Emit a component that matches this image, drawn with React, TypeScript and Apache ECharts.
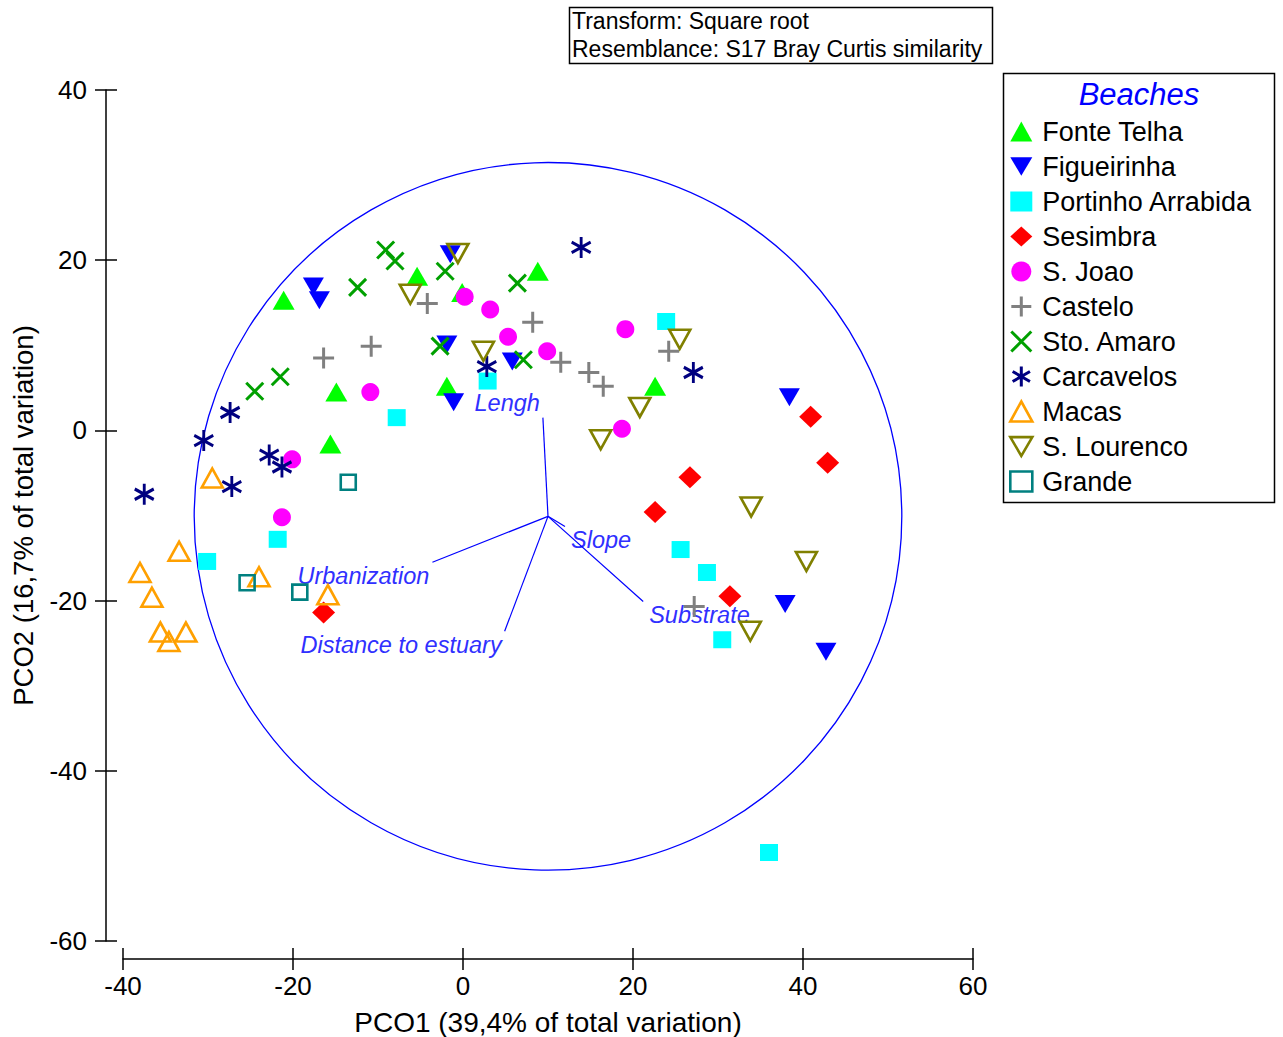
import React, { useEffect, useRef } from "react";
import * as echarts from "echarts";

// ---------- DATA ----------
const beachNames = [
  "Fonte Telha",
  "Figueirinha",
  "Portinho Arrabida",
  "Sesimbra",
  "S. Joao",
  "Castelo",
  "Sto. Amaro",
  "Carcavelos",
  "Macas",
  "S. Lourenco",
  "Grande",
];

const fonteTelha = [[-21.1, 15.3], [-14.9, 4.5], [-15.6, -1.6], [-5.4, 18.1], [8.8, 18.7], [-0.1, 16.2], [-1.9, 5.2], [22.6, 5.2]];
const figueirinha = [[-17.6, 16.9], [-16.9, 15.3], [-1.5, 20.7], [-1.9, 10.1], [5.8, 8.1], [-1.1, 3.3], [38.4, 3.9], [37.9, -20.4], [42.7, -26.0]];
const portinhoArrabida = [[2.9, 5.8], [-7.8, 1.5], [23.9, 12.8], [-21.8, -12.8], [-30.1, -15.4], [25.6, -14.0], [28.7, -16.7], [30.5, -24.6], [36.0, -49.6]];
const sesimbra = [[40.9, 1.6], [42.9, -3.8], [26.7, -5.5], [22.6, -9.6], [31.4, -19.5], [-16.4, -21.4]];
const sJoao = [[0.2, 15.7], [3.2, 14.2], [5.3, 11.0], [9.9, 9.3], [-10.9, 4.5], [19.1, 11.9], [18.7, 0.2], [-20.1, -3.4], [-21.3, -10.2]];
const castelo = [[-16.4, 8.5], [-4.2, 14.9], [-10.8, 9.9], [8.2, 12.7], [11.5, 8.0], [14.8, 6.8], [16.5, 5.2], [24.2, 9.3], [27.2, -20.7]];
const stoAmaro = [[-21.5, 6.3], [-24.5, 4.6], [-9.1, 21.2], [-8.0, 19.9], [-12.4, 16.8], [-2.1, 18.7], [6.4, 17.3], [-2.7, 9.9], [7.1, 8.3]];
const carcavelos = [[-27.4, 2.1], [-30.5, -1.2], [-22.8, -2.9], [-21.3, -4.3], [-27.2, -6.6], [-37.5, -7.5], [13.9, 21.5], [2.8, 7.5], [27.1, 6.8]];
const macas = [[-29.5, -5.6], [-33.4, -14.2], [-38.0, -16.7], [-36.6, -19.6], [-35.6, -23.7], [-34.6, -24.8], [-32.6, -23.7], [-24.0, -17.2], [-15.9, -19.3]];
const sLourenco = [[-0.6, 20.8], [-6.2, 16.0], [2.4, 9.3], [25.5, 10.7], [20.8, 2.7], [16.2, -1.1], [33.9, -9.0], [40.4, -15.4], [33.8, -23.6]];
const grande = [[-13.5, -6.1], [-25.4, -17.9], [-19.2, -19.0]];

const beachData = [fonteTelha, figueirinha, portinhoArrabida, sesimbra, sJoao, castelo, stoAmaro, carcavelos, macas, sLourenco, grande];

const vectorNames = ["Lengh", "Slope", "Urbanization", "Distance to estuary", "Substrate"];
const vectorEndX = [9.4, 12.0, -3.6, 4.9, 21.2];
const vectorEndY = [1.5, -11.3, -15.5, -23.6, -20.1];
const vectorOrigin = [10.0, -10.1];
const circleRadius = 41.6;

const xTicks = { min: -40, max: 60, interval: 20 };
const yTicks = { min: -60, max: 40, interval: 20 };

const xAxisTitle = "PCO1 (39,4% of total variation)";
const yAxisTitle = "PCO2 (16,7% of total variation)";
const infoLines = ["Transform: Square root", "Resemblance: S17 Bray Curtis similarity"];
const legendTitle = "Beaches";

// ---------- STYLES ----------
const FONT = "'Liberation Sans', Arial, sans-serif";
const DOWN_TRI = "path://M0,0 L20,0 L10,17 Z";
const PLUS = "path://M10,0 L10,20 M0,10 L20,10";
const CROSS = "path://M0,0 L20,20 M20,0 L0,20";
const STAR = "path://M10,0 L10,20 M1.34,5 L18.66,15 M18.66,5 L1.34,15";

const beachStyles = [
  { symbol: "triangle", size: [22, 19], color: "#00ff00", mode: "fill" },
  { symbol: DOWN_TRI, size: [21, 18], color: "#0000ff", mode: "fill" },
  { symbol: "rect", size: [18, 17], color: "#00ffff", mode: "fill" },
  { symbol: "diamond", size: [23, 22], color: "#ff0000", mode: "fill" },
  { symbol: "circle", size: 18, color: "#ff00ff", mode: "fill" },
  { symbol: PLUS, size: 21, color: "#808080", mode: "line" },
  { symbol: CROSS, size: 17, color: "#00a000", mode: "line" },
  { symbol: STAR, size: [19, 21], color: "#000080", mode: "line" },
  { symbol: "triangle", size: [21, 19], color: "#ffa000", mode: "hollow" },
  { symbol: DOWN_TRI, size: [21, 19], color: "#808000", mode: "hollow" },
  { symbol: "rect", size: 15, color: "#008080", mode: "hollow" },
];

export default function App() {
  const ref = useRef<HTMLDivElement>(null);

  useEffect(() => {
    if (!ref.current) return;
    const chart = echarts.init(ref.current, null, { renderer: "svg" });

    const scatterSeries = beachNames.map((name, i) => {
      const st = beachStyles[i];
      let itemStyle: any;
      if (st.mode === "fill") itemStyle = { color: st.color, borderWidth: 0, opacity: 1 };
      else if (st.mode === "line") itemStyle = { color: st.color, borderColor: st.color, borderWidth: 3, opacity: 1 };
      else itemStyle = { color: "rgba(255,255,255,0)", borderColor: st.color, borderWidth: 2.6, opacity: 1 };
      return {
        type: "scatter",
        name,
        data: beachData[i],
        symbol: st.symbol,
        symbolSize: st.size,
        itemStyle,
        z: 3,
        emphasis: { disabled: true },
        xAxisIndex: 0,
        yAxisIndex: 0,
      };
    });

    const circleSeries = {
      type: "custom",
      name: "circle",
      z: 1,
      silent: true,
      xAxisIndex: 0,
      yAxisIndex: 0,
      data: [[vectorOrigin[0], vectorOrigin[1], circleRadius]],
      renderItem: (params: any, api: any) => {
        const c = api.coord([api.value(0), api.value(1)]);
        const s = api.size([api.value(2), api.value(2)]);
        return {
          type: "circle",
          shape: { cx: c[0], cy: c[1], r: (s[0] + s[1]) / 2 },
          style: { fill: "none", stroke: "#0000ff", lineWidth: 1.3 },
        };
      },
    };

    const vectorSeries = {
      type: "custom",
      name: "vectors",
      z: 2,
      silent: true,
      xAxisIndex: 0,
      yAxisIndex: 0,
      data: vectorNames.map((n, i) => [vectorOrigin[0], vectorOrigin[1], vectorEndX[i], vectorEndY[i], i]),
      renderItem: (params: any, api: any) => {
        const o = api.coord([api.value(0), api.value(1)]);
        const e = api.coord([api.value(2), api.value(3)]);
        const idx = api.value(4);
        const dx = api.value(2) - api.value(0);
        const dy = api.value(3) - api.value(1);
        const alignR = dx < 0;
        const up = dy > 0;
        return {
          type: "group",
          children: [
            {
              type: "line",
              shape: { x1: o[0], y1: o[1], x2: e[0], y2: e[1] },
              style: { stroke: "#0000ff", lineWidth: 1.2 },
            },
            {
              type: "text",
              x: e[0] + (alignR ? -3 : 6),
              y: e[1] + (up ? -3 : 2),
              style: {
                text: vectorNames[idx],
                fill: "#3030ff",
                font: `italic 23.5px ${FONT}`,
                align: alignR ? "right" : "left",
                verticalAlign: up ? "bottom" : "top",
              },
            },
          ],
        };
      },
    };

    const axisText = { fontSize: 26, color: "#000", fontFamily: FONT };
    const lineStyle = { color: "#000", width: 1.5 };

    const option: any = {
      animation: false,
      backgroundColor: "#fff",
      grid: { left: 123, top: 90, width: 850, height: 851, outerBoundsMode: "none", containLabel: false },
      xAxis: [
        {
          type: "value",
          ...xTicks,
          position: "bottom",
          offset: 18,
          axisLine: { show: true, onZero: false, lineStyle },
          axisTick: { show: true, length: 11, lineStyle },
          axisLabel: { margin: 14, ...axisText },
          splitLine: { show: false },
          name: xAxisTitle,
          nameLocation: "middle",
          nameGap: 49,
          nameTextStyle: { fontSize: 28, color: "#000", fontFamily: FONT },
        },
        {
          type: "value",
          ...xTicks,
          position: "bottom",
          offset: 18,
          axisLine: { show: false, onZero: false },
          axisTick: { show: true, inside: true, length: 11, lineStyle },
          axisLabel: { show: false },
          splitLine: { show: false },
        },
      ],
      yAxis: [
        {
          type: "value",
          ...yTicks,
          position: "left",
          offset: 17,
          axisLine: { show: true, onZero: false, lineStyle },
          axisTick: { show: true, length: 11, lineStyle },
          axisLabel: { margin: 19, ...axisText },
          splitLine: { show: false },
          name: yAxisTitle,
          nameLocation: "middle",
          nameGap: 69,
          nameTextStyle: { fontSize: 27.5, color: "#000", fontFamily: FONT },
        },
        {
          type: "value",
          ...yTicks,
          position: "left",
          offset: 17,
          axisLine: { show: false, onZero: false },
          axisTick: { show: true, inside: true, length: 11, lineStyle },
          axisLabel: { show: false },
          splitLine: { show: false },
        },
      ],
      legend: {
        orient: "vertical",
        left: 1009,
        top: 118,
        padding: 0,
        itemWidth: 22,
        itemHeight: 20,
        itemGap: 8,
        selectedMode: false,
        data: beachNames.map((n, i) => ({
          name: n,
          itemStyle:
            beachStyles[i].mode === "fill"
              ? { borderWidth: 0, opacity: 1 }
              : { borderWidth: beachStyles[i].mode === "line" ? 3 : 2.6, opacity: 1 },
        })),
        textStyle: { fontSize: 27, color: "#000", fontFamily: FONT, padding: [0, 0, 0, 5] },
      },
      graphic: [
        {
          type: "rect",
          shape: { x: 569.5, y: 7.5, width: 423, height: 56 },
          style: { fill: "#fff", stroke: "#000", lineWidth: 1.5 },
        },
        {
          type: "text",
          x: 572,
          y: 21,
          style: { text: infoLines[0], font: `23px ${FONT}`, fill: "#000", verticalAlign: "middle" },
        },
        {
          type: "text",
          x: 572,
          y: 49,
          style: { text: infoLines[1], font: `23px ${FONT}`, fill: "#000", verticalAlign: "middle" },
        },
        {
          type: "rect",
          z: -1,
          shape: { x: 1003.5, y: 73.5, width: 271, height: 429 },
          style: { fill: "#fff", stroke: "#000", lineWidth: 1.5 },
        },
        {
          type: "text",
          x: 1139,
          y: 94,
          style: {
            text: legendTitle,
            font: `italic 31px ${FONT}`,
            fill: "#0000ff",
            align: "center",
            verticalAlign: "middle",
          },
        },
      ],
      series: [circleSeries, vectorSeries, ...scatterSeries],
    };

    chart.setOption(option);
    return () => chart.dispose();
  }, []);

  return (
    <div
      ref={ref}
      style={{ position: "absolute", left: 0, top: 0, width: 1283, height: 1037, background: "#fff" }}
    />
  );
}
